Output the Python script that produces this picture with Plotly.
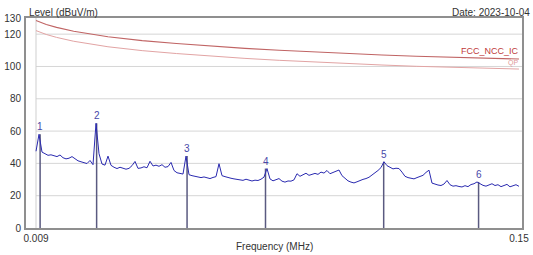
import numpy as np
import plotly.graph_objects as go

# ---- data ----
f_start, f_stop = 0.009, 0.15
levels = [
    47.5, 58.0, 47.0, 45.8, 45.0, 45.3, 44.6, 44.2, 45.2, 43.5,
    42.8, 43.2, 44.2, 42.6, 41.6, 41.0, 40.4, 39.9, 41.8, 39.2,
    64.8, 46.0, 39.6, 38.9, 44.5, 38.8, 37.6, 36.8, 37.6, 37.2,
    36.4, 36.9, 38.6, 41.2, 36.9, 37.2, 37.9, 37.3, 41.3, 38.4,
    38.9, 38.2, 39.2, 37.6, 38.0, 40.6, 35.6, 34.2, 34.0, 33.4,
    44.5, 33.0, 32.4, 32.1, 31.6, 31.2, 31.6, 30.9, 30.6, 31.3,
    31.8, 39.8, 32.4, 31.8, 31.1, 30.8, 30.4, 30.1, 30.0, 29.5,
    30.2, 29.8, 29.1, 29.6, 29.4, 30.2, 31.5, 36.8, 30.4, 29.2,
    29.8, 30.6, 29.0, 28.4, 29.1, 29.0, 29.8, 33.6, 32.0, 32.8,
    33.9, 32.6, 33.4, 33.8, 33.2, 34.6, 34.0, 35.6, 33.6, 34.4,
    34.8, 35.9, 32.4, 30.6, 29.2, 28.4, 27.9, 28.6, 29.6, 30.1,
    30.6, 31.4, 32.8, 34.0, 35.6, 37.4, 41.0, 38.6, 37.6, 36.6,
    37.0, 36.8, 34.6, 32.0, 31.2, 30.8, 30.4, 31.2, 31.8, 32.6,
    34.4, 35.8, 27.8, 27.0, 26.6, 26.3, 27.2, 29.4, 26.8, 25.9,
    26.2, 25.7, 25.4, 26.2, 25.6, 26.9, 27.4, 28.5, 27.2, 26.4,
    25.9, 26.8, 27.4, 26.3, 26.8, 25.6, 26.4, 27.0, 25.5, 26.0,
    26.8, 25.8,
]
freqs = np.linspace(f_start, f_stop, len(levels))

limit_freq = [0.009, 0.012, 0.015, 0.02, 0.03, 0.04, 0.05, 0.06, 0.07,
              0.08, 0.09, 0.10, 0.11, 0.12, 0.13, 0.14, 0.15]
limit_upper = [128.4, 126.0, 124.2, 121.8, 118.4, 116.0, 114.2, 112.6, 111.2,
               110.0, 108.9, 108.0, 107.1, 106.3, 105.6, 105.0, 104.6]
limit_lower = [122.2, 119.8, 118.0, 115.6, 112.2, 109.8, 108.0, 106.4, 105.0,
               103.8, 102.7, 101.8, 100.9, 100.1, 99.4, 98.8, 98.4]

marker_ids = ["1", "2", "3", "4", "5", "6"]
marker_freq = [0.0102, 0.0267, 0.0531, 0.0760, 0.1105, 0.1382]
marker_level = [58.0, 64.8, 44.5, 36.8, 41.0, 28.5]

y_ticks = [0, 20, 40, 60, 80, 100, 120, 130]
grid_levels = [20, 40, 60, 80, 100, 120]
x_ticks = [0.009, 0.15]
x_tick_text = ["0.009", "0.15"]

# ---- figure ----
FONT = "Arial, Liberation Sans, sans-serif"
x_lo, x_hi = 0.00608, 0.15088

fig = go.Figure()

fig.add_trace(go.Scatter(x=limit_freq, y=limit_lower, mode="lines",
                         line=dict(color="#e2a4a4", width=1), hoverinfo="skip"))
fig.add_trace(go.Scatter(x=limit_freq, y=limit_upper, mode="lines",
                         line=dict(color="#c06464", width=1.1), hoverinfo="skip"))

for f, lv in zip(marker_freq, marker_level):
    fig.add_trace(go.Scatter(x=[f, f], y=[0, lv], mode="lines",
                             line=dict(color="#5a5a80", width=1.5), hoverinfo="skip"))

fig.add_trace(go.Scatter(x=freqs, y=levels, mode="lines",
                         line=dict(color="#2a2ab0", width=1), hoverinfo="skip"))

shapes = []
for g in grid_levels:
    shapes.append(dict(type="line", xref="x", yref="y", x0=f_start, x1=x_hi,
                       y0=g, y1=g, line=dict(color="#d6d6d6", width=1), layer="below"))
shapes.append(dict(type="line", xref="x", yref="y", x0=f_start, x1=f_start,
                   y0=0, y1=130, line=dict(color="#cfcfcf", width=1), layer="below"))

annotations = []
for mid, f, lv in zip(marker_ids, marker_freq, marker_level):
    annotations.append(dict(x=f, y=lv, xref="x", yref="y", text=mid, showarrow=False,
                            yanchor="bottom", yshift=0,
                            font=dict(family=FONT, size=10, color="#4848a8")))
annotations += [
    dict(x=0, y=1, xref="paper", yref="paper", text="Level (dBuV/m)", showarrow=False,
         xanchor="left", yanchor="bottom", xshift=1, yshift=-2,
         font=dict(family=FONT, size=10, color="#333333")),
    dict(x=1, y=1, xref="paper", yref="paper", text="Date: 2023-10-04", showarrow=False,
         xanchor="right", yanchor="bottom", xshift=10, yshift=-2,
         font=dict(family=FONT, size=10, color="#333333")),
    dict(x=0.5, y=0, xref="paper", yref="paper", text="Frequency (MHz)", showarrow=False,
         xanchor="center", yanchor="top", yshift=-11,
         font=dict(family=FONT, size=10, color="#333333")),
    dict(x=0.15, y=limit_upper[-1], xref="x", yref="y", text="FCC_NCC_IC", showarrow=False,
         xanchor="right", yanchor="bottom", yshift=1, xshift=2,
         font=dict(family=FONT, size=9, color="#c03a3a")),
    dict(x=0.15, y=limit_lower[-1], xref="x", yref="y", text="QP", showarrow=False,
         xanchor="right", yanchor="bottom", yshift=0, xshift=1,
         font=dict(family=FONT, size=7, color="#e09a9a")),
]

fig.update_layout(
    template="none",
    width=533, height=255,
    margin=dict(l=26, r=11, t=18, b=27, pad=0, autoexpand=False),
    paper_bgcolor="white", plot_bgcolor="white",
    showlegend=False,
    shapes=shapes, annotations=annotations,
    font=dict(family=FONT, size=10, color="#333333"),
)
fig.update_xaxes(range=[x_lo, x_hi], tickvals=x_ticks, ticktext=x_tick_text,
                 automargin=False,
                 showgrid=False, zeroline=False, showline=True, mirror=True,
                 linecolor="#8f8f8f", linewidth=2, ticks="", ticklabelstandoff=0,
                 tickfont=dict(family=FONT, size=10, color="#333333"))
fig.update_yaxes(range=[0, 130], tickvals=y_ticks, showgrid=False, zeroline=False,
                 automargin=False,
                 showline=True, mirror=True, linecolor="#8f8f8f", linewidth=2,
                 ticks="", ticklabelstandoff=1,
                 tickfont=dict(family=FONT, size=10, color="#333333"))

fig.write_html("out.html", config={"displayModeBar": False},
               post_script="document.body.style.margin='0';document.body.style.padding='0';")
